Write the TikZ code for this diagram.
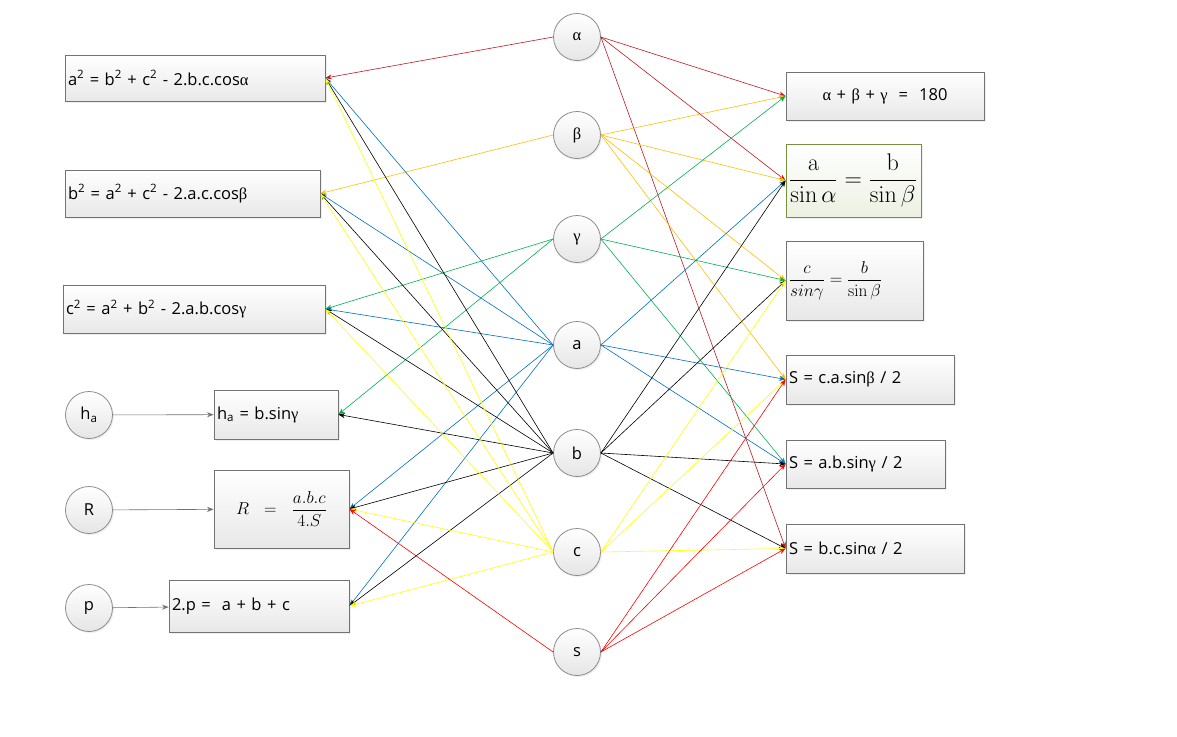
\documentclass[tikz,border=0pt]{standalone}
\usepackage{graphicx}
\usepackage[no-math]{fontspec}
\setmainfont{Open Sans}
\newfontfamily\grk{Liberation Serif}
\usetikzlibrary{arrows.meta,shadows}

\definecolor{alphared}{RGB}{195,25,35}
\definecolor{betaorange}{RGB}{255,192,0}
\definecolor{gammagreen}{RGB}{0,176,80}
\definecolor{ablue}{RGB}{0,112,192}
\definecolor{cyellow}{RGB}{255,255,0}
\definecolor{sred}{RGB}{255,0,0}
\definecolor{olive}{RGB}{118,146,60}
\definecolor{olivefill}{RGB}{236,241,226}

\begin{document}
\begin{tikzpicture}
[every node/.style={inner sep=3pt, font=\fontsize{16.5}{19}\selectfont},
 formula/.style={draw=black!55, line width=0.8pt, top color=white, bottom color=black!9,
   drop shadow={opacity=0.12, shadow xshift=2pt, shadow yshift=-2pt}},
 quantity/.style={circle, minimum size=47pt, draw=black!45, line width=0.8pt,
   top color=white, bottom color=black!10,
   drop shadow={opacity=0.12, shadow xshift=1.5pt, shadow yshift=-1.5pt}},
 link/.style={line width=0.6pt, -{Stealth[length=6.5pt,width=5pt]}},
 feed/.style={link, draw=black!55}]
\path [fill=white] (0pt,0pt) rectangle (1177pt,-736pt);

% left formulas
\node (cosA) [formula, text width=254pt, minimum height=46pt, align=left] at (195pt, -78pt) {a\textsuperscript{2} = b\textsuperscript{2} + c\textsuperscript{2} - 2.b.c.cos{\grk α}};
\node (cosB) [formula, text width=249pt, minimum height=47pt, align=left] at (192.5pt, -193.5pt) {b\textsuperscript{2} = a\textsuperscript{2} + c\textsuperscript{2} - 2.a.c.cos{\grk β}};
\node (cosC) [formula, text width=256pt, minimum height=48pt, align=left] at (194pt, -309pt) {c\textsuperscript{2} = a\textsuperscript{2} + b\textsuperscript{2} - 2.a.b.cos{\grk γ}};
\node (height) [formula, text width=118pt, minimum height=49pt, align=left] at (276pt, -414.5pt) {h\textsubscript{a} = b.sin{\grk γ}};
\node (radius) [formula, text width=129pt, minimum height=78pt, align=center] at (281.5pt, -509pt) {\fontsize{17.5}{21}\selectfont$\displaystyle R\;=\;\frac{a.b.c}{4.S}$};
\node (perim) [formula, text width=174pt, minimum height=52pt, align=left] at (259pt, -606pt) {2.p =~ a + b + c};

% left inputs
\node (ha) [quantity] at (89pt, -415pt) {h\textsubscript{a}};
\node (R) [quantity] at (89pt, -510pt) {R};
\node (p) [quantity] at (89pt, -608pt) {p};

% middle quantities
\node (alpha) [quantity] at (577pt, -37pt) {\grk α};
\node (beta) [quantity] at (577pt, -135pt) {\grk β};
\node (gamma) [quantity] at (577pt, -239pt) {\grk γ};
\node (a) [quantity] at (577pt, -345pt) {a};
\node (b) [quantity] at (577pt, -453pt) {b};
\node (c) [quantity] at (577pt, -552pt) {c};
\node (s) [quantity] at (577pt, -652pt) {s};

% right formulas
\node (angles) [formula, text width=192pt, minimum height=48pt, align=center] at (885pt, -96pt) {{\grk α} + {\grk β} + {\grk γ} ~=~ 180};
\node (sines1) [formula, draw=olive, bottom color=olivefill, text width=129pt, minimum height=73pt, align=left] at (853.5pt, -180.5pt) {\fontsize{20.74}{25}\selectfont\scalebox{1.16}{$\displaystyle\frac{\mathrm{a}}{\sin\alpha}=\frac{\mathrm{b}}{\sin\beta}$}};
\node (sines2) [formula, text width=131pt, minimum height=79pt, align=left] at (854.5pt, -280.5pt) {\fontsize{17.5}{21}\selectfont$\displaystyle\frac{c}{sin\gamma}=\frac{b}{\sin\beta}$};
\node (areaB) [formula, text width=162pt, minimum height=49pt, align=left] at (870pt, -379.5pt) {S = c.a.sin{\grk β} / 2};
\node (areaC) [formula, text width=153pt, minimum height=48pt, align=left] at (865.5pt, -464pt) {S = a.b.sin{\grk γ} / 2};
\node (areaA) [formula, text width=172pt, minimum height=49pt, align=left] at (875pt, -548.5pt) {S = b.c.sin{\grk α} / 2};

\draw [feed] (ha) to (height);
\draw [feed] (R) to (radius);
\draw [feed] (p) to (perim);

\draw [link, alphared] (alpha.west) to (cosA.east);
\draw [link, alphared] (alpha.east) to (angles.west);
\draw [link, alphared] (alpha.east) to (sines1.west);
\draw [link, alphared] (alpha.east) to (areaA.west);

\draw [link, betaorange] (beta.west) to (cosB.east);
\draw [link, betaorange] (beta.east) to (angles.west);
\draw [link, betaorange] (beta.east) to (sines1.west);
\draw [link, betaorange] (beta.east) to (sines2.west);
\draw [link, betaorange] (beta.east) to (areaB.west);

\draw [link, gammagreen] (gamma.west) to (cosC.east);
\draw [link, gammagreen] (gamma.west) to (height.east);
\draw [link, gammagreen] (gamma.east) to (angles.west);
\draw [link, gammagreen] (gamma.east) to (sines2.west);
\draw [link, gammagreen] (gamma.east) to (areaC.west);

\draw [link, ablue] (a.west) to (cosA.east);
\draw [link, ablue] (a.west) to (cosB.east);
\draw [link, ablue] (a.west) to (cosC.east);
\draw [link, ablue] (a.west) to (radius.east);
\draw [link, ablue] (a.west) to (perim.east);
\draw [link, ablue] (a.east) to (sines1.west);
\draw [link, ablue] (a.east) to (areaB.west);
\draw [link, ablue] (a.east) to (areaC.west);

\draw [link, black] (b.west) to (cosA.east);
\draw [link, black] (b.west) to (cosB.east);
\draw [link, black] (b.west) to (cosC.east);
\draw [link, black] (b.west) to (height.east);
\draw [link, black] (b.west) to (radius.east);
\draw [link, black] (b.west) to (perim.east);
\draw [link, black] (b.east) to (sines1.west);
\draw [link, black] (b.east) to (sines2.west);
\draw [link, black] (b.east) to (areaC.west);
\draw [link, black] (b.east) to (areaA.west);

\draw [link, cyellow] (c.west) to (cosA.east);
\draw [link, cyellow] (c.west) to (cosB.east);
\draw [link, cyellow] (c.west) to (cosC.east);
\draw [link, cyellow] (c.west) to (radius.east);
\draw [link, cyellow] (c.west) to (perim.east);
\draw [link, cyellow] (c.east) to (sines2.west);
\draw [link, cyellow] (c.east) to (areaB.west);
\draw [link, cyellow] (c.east) to (areaA.west);

\draw [link, sred] (s.west) to (radius.east);
\draw [link, sred] (s.east) to (areaB.west);
\draw [link, sred] (s.east) to (areaC.west);
\draw [link, sred] (s.east) to (areaA.west);
\useasboundingbox (0pt,0pt) rectangle (1177pt,-736pt);
\end{tikzpicture}
\end{document}
